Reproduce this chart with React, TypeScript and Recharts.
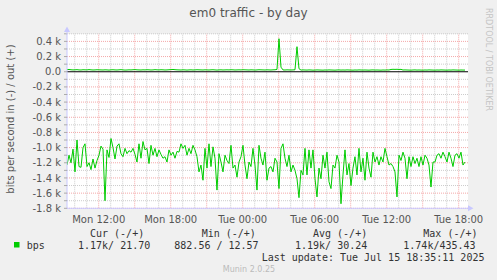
import { ComposedChart, Line, XAxis, YAxis, ReferenceLine } from 'recharts';

// 10-minute samples, starting Mon 09:21 (hours since Mon 00:00)
const START_HOUR = 9.358;
const STEP_HOUR = 1 / 6;

// inbound traffic, kbit/s (drawn below zero)
const inKbps = [
  1.23, 1.10, 1.20, 1.02, 1.32, 0.90, 1.25, 1.26, 1.00, 0.95, 1.25, 1.20, 1.29, 1.15, 1.27, 1.17, 1.10, 0.98, 1.02, 1.70,
  1.03, 1.13, 0.88, 1.00, 1.15, 0.98, 0.95, 1.08, 1.12, 1.01, 1.08, 1.04, 1.06, 1.01, 1.09,
  1.19, 0.95, 1.14, 0.92, 1.03, 1.01, 1.21, 0.97, 1.10, 1.01, 1.12, 1.03, 1.09, 1.14, 1.12, 1.19, 1.03,
  1.10, 1.06, 1.14, 1.05, 1.06, 0.95, 1.01, 0.97, 1.10, 1.01, 1.08, 0.97, 1.03, 1.12, 1.32, 1.23, 1.43,
  1.01, 1.27, 0.95, 1.25, 0.99, 1.14, 1.56, 1.08, 1.19, 1.32, 1.10, 1.17, 1.21, 0.97, 1.27, 1.23, 1.39,
  1.19, 1.12, 0.97, 1.23, 1.41, 1.19, 1.25, 1.01, 1.23, 1.56, 0.97, 1.14, 1.23, 1.06, 1.43, 1.27, 1.25,
  1.32, 1.14, 1.19, 1.54, 1.01, 0.95, 1.14, 1.25, 1.10, 1.32, 1.23, 1.30, 1.41, 1.66, 1.30, 1.36, 1.01,
  1.36, 1.03, 1.27, 1.03, 1.41, 1.65, 1.27, 1.41, 1.10, 1.27, 1.06, 1.45, 1.54, 1.23, 1.27, 1.10, 1.19,
  1.74, 1.36, 1.03, 1.36, 1.21, 1.50, 1.27, 1.12, 1.36, 1.01, 1.32, 1.14, 1.43, 1.06, 1.27, 1.39, 1.06,
  1.19, 1.12, 1.23, 1.12, 1.19, 1.01, 1.12, 1.23, 1.21, 1.25, 1.32, 1.65, 1.10, 1.17, 1.06, 1.14, 1.41,
  1.12, 1.25, 1.12, 1.21, 1.14, 1.25, 1.12, 1.23, 1.10, 1.14, 1.23, 1.52, 1.19, 1.19, 1.10,
  1.08, 1.14, 1.06, 1.12, 1.19, 1.06, 1.14, 1.25, 1.10, 1.08, 1.14, 1.06, 1.23, 1.19,
];

// outbound traffic, bit/s
const outBps = [
  28, 30, 26, 24, 25, 27, 24, 23, 26, 25,
  24, 28, 25, 23, 24, 26, 25, 24, 23, 25,
  24, 22, 25, 26, 24, 23, 25, 27, 24, 22,
  23, 25, 24, 26, 28, 25, 24, 23, 25, 24,
  26, 25, 23, 24, 27, 25, 24, 26, 25, 23,
  24, 26, 28, 30, 27, 25, 24, 23, 25, 24,
  22, 24, 25, 23, 24, 26, 25, 24, 23, 25,
  24, 23, 25, 26, 24, 22, 24, 25, 23, 24,
  25, 24, 26, 25, 23, 24, 25, 24, 26, 25,
  24, 23, 25, 24, 22, 24, 26, 25, 24, 23,
  25, 24, 23, 25, 26, 30, 435, 60, 24, 23,
  25, 24, 23, 24, 26, 330, 40, 22, 24, 23,
  22, 24, 23, 21, 22, 24, 23, 22, 21, 23,
  22, 24, 23, 22, 21, 23, 24, 22, 23, 22,
  24, 23, 22, 21, 23, 22, 24, 23, 22, 23,
  22, 21, 23, 24, 22, 23, 22, 21, 23, 22,
  24, 23, 30, 32, 31, 32, 30, 31, 23, 24,
  23, 22, 21, 23, 24, 22, 23, 22, 21, 23,
  22, 24, 23, 22, 21, 23, 22, 24, 23, 22,
  21, 23, 22, 24, 23, 22, 21, 23, 22, 22,
];

const xLabelHours = [12, 18, 24, 30, 36, 42];
const minorHours = [10, 11, 13, 14, 16, 17, 19, 20, 22, 23, 25, 26, 28, 29, 31, 32, 34, 35, 37, 38, 40, 41];
const majorHours = [12, 15, 18, 21, 24, 27, 30, 33, 36, 39, 42];
const yTicks = [-1800, -1700, -1600, -1500, -1400, -1300, -1200, -1100, -1000, -900, -800, -700, -600, -500, -400, -300, -200, -100, 0, 100, 200, 300, 400, 500];

const legendHead = ['Cur (-/+)', 'Min (-/+)', 'Avg (-/+)', 'Max (-/+)'];
const legendVals = ['1.17k/ 21.70', '882.56 / 12.57', '1.19k/ 30.24', '1.74k/435.43'];

const data = inKbps.map((v, i) => ({
  t: START_HOUR + i * STEP_HOUR,
  in: -v * 1000,
  out: outBps[i],
}));

const fmtHour = (h: number) => {
  const day = h >= 24 ? 'Tue' : 'Mon';
  const hh = String(Math.round(h) % 24).padStart(2, '0');
  return `${day} ${hh}:00`;
};

const fmtY = (v: number) => {
  if (v === 0) return '0.0';
  if (v % 200 !== 0 || v > 400) return '';
  return `${(v / 1000).toFixed(1)} k`;
};

const GREEN = '#00CC00';
const AXIS = '#C8C8FF';
const MINOR = '#CCCCCC';
const MAJOR = '#F4A8A8';

export default function App() {
  return (
    <div style={{ position: 'absolute', left: 0, top: 0, width: 497, height: 280, background: '#F0F0F0' }}>
      <div style={{ position: 'absolute', left: 67, top: 34, width: 401, height: 174.5, background: '#fff' }} />
      <div style={{ position: 'absolute', left: 0, top: 0 }}>
        <ComposedChart
          width={497}
          height={280}
          data={data}
          margin={{ top: 33.8, right: 29, bottom: 51.7, left: 7 }}
        >
          {minorHours.map((h) => (
            <ReferenceLine key={`vm${h}`} x={h} stroke={MINOR} strokeDasharray="1 1" />
          ))}
          {yTicks.filter((v) => v % 200 !== 0).map((v) => (
            <ReferenceLine key={`hm${v}`} y={v} stroke={MINOR} strokeDasharray="1 1" />
          ))}
          {majorHours.map((h) => (
            <ReferenceLine key={`vM${h}`} x={h} stroke={MAJOR} strokeDasharray="1 1" />
          ))}
          {yTicks.filter((v) => v % 200 === 0 && v !== 0).map((v) => (
            <ReferenceLine key={`hM${v}`} y={v} stroke={MAJOR} strokeDasharray="1 1" />
          ))}
          <XAxis
            dataKey="t"
            type="number"
            domain={[START_HOUR, 42.775]}
            ticks={xLabelHours}
            tickFormatter={fmtHour}
            allowDataOverflow
            height={20}
            axisLine={{ stroke: AXIS }}
            tickLine={false}
            tickMargin={2}
            tick={{ fill: '#555', fontSize: 10, fontFamily: 'DejaVu Sans' }}
          />
          <YAxis
            type="number"
            domain={[-1800, 500]}
            ticks={yTicks}
            interval={0}
            tickFormatter={fmtY}
            width={60}
            axisLine={{ stroke: AXIS }}
            tickLine={{ stroke: '#AAAAAA' }}
            tickSize={3}
            tickMargin={3}
            tick={{ fill: '#555', fontSize: 10, fontFamily: 'DejaVu Sans' }}
          />
          <ReferenceLine y={0} stroke="#000" strokeWidth={1.2} />
          <Line dataKey="in" type="linear" stroke={GREEN} strokeWidth={1} dot={false} isAnimationActive={false} />
          <Line dataKey="out" type="linear" stroke={GREEN} strokeWidth={1} dot={false} isAnimationActive={false} />
        </ComposedChart>
      </div>
      <svg width={497} height={280} style={{ position: 'absolute', left: 0, top: 0, pointerEvents: 'none' }}>
        <polygon points="67,26.5 64,32 70,32" fill={AXIS} />
        <line x1={67} y1={32} x2={67} y2={34} stroke={AXIS} />
        <polygon points="473.5,208.3 468,205.3 468,211.3" fill={AXIS} />
        <text x={248.5} y={17} textAnchor="middle" fontFamily="DejaVu Sans" fontSize={12} fill="#555">
          em0 traffic - by day
        </text>
        <text transform="translate(14,119) rotate(-90)" textAnchor="middle" fontFamily="DejaVu Sans" fontSize={10} fill="#555">
          bits per second in (-) / out (+)
        </text>
        <text transform="translate(486,8) rotate(90)" fontFamily="DejaVu Sans" fontSize={8} fill="#C4C4C4">
          RRDTOOL / TOBI OETIKER
        </text>
        <g fontFamily="DejaVu Sans Mono" fontSize={10} fill="#333" style={{ whiteSpace: 'pre' }}>
          <text x={90} y={236.5}>{legendHead[0]}</text>
          <text x={201.7} y={236.5}>{legendHead[1]}</text>
          <text x={313} y={236.5}>{legendHead[2]}</text>
          <text x={423.3} y={236.5}>{legendHead[3]}</text>
          <rect x={14} y={242} width={5.5} height={5.5} fill={GREEN} />
          <text x={26.7} y={248.5}>bps</text>
          <text x={78} y={248.5}>{legendVals[0]}</text>
          <text x={174.3} y={248.5}>{legendVals[1]}</text>
          <text x={295} y={248.5}>{legendVals[2]}</text>
          <text x={403.3} y={248.5}>{legendVals[3]}</text>
          <text x={261.7} y={261}>Last update: Tue Jul 15 18:35:11 2025</text>
        </g>
        <text x={249} y={272} textAnchor="middle" fontFamily="DejaVu Sans" fontSize={8} fill="#BBBBBB">
          Munin 2.0.25
        </text>
      </svg>
    </div>
  );
}
